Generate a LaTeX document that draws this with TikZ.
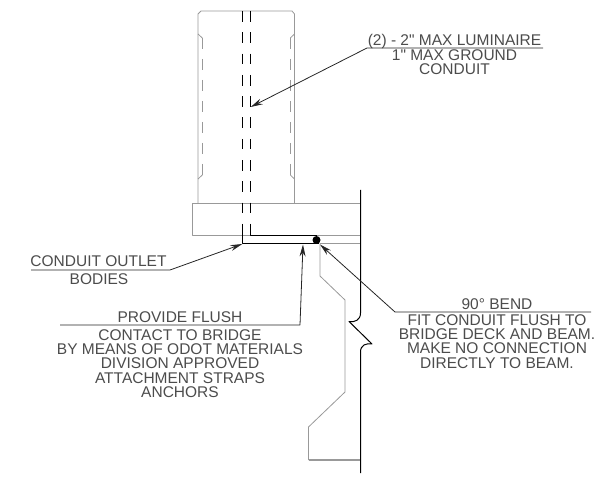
\documentclass[tikz,border=0pt]{standalone}
\usepackage{fontspec}
\newfontfamily\notefont{Liberation Sans}
\usetikzlibrary{arrows.meta}
\tikzset{
  grayline/.style={line width=.8pt,color=black!40},
  beamline/.style={line width=1.pt,color=black},
  leader/.style={line width=.8pt,color=black!85},
  conduit/.style={line width=1.pt,color=black,dash pattern=on 10.7pt off 10.6pt},
  note/.style={anchor=base,align=center,inner sep=0pt,font=\notefont\fontsize{15.5}{14.3}\selectfont,text=black!70},
}
\begin{document}
\begin{tikzpicture}[line cap=butt,line join=round,x=1pt,y=-1pt,>={Stealth[length=12pt,width=6pt]}]
\useasboundingbox (0,0) rectangle (605,486);
% luminaire base
\draw [grayline] (198,203) -- (198,14) -- (201,11) -- (292,11) -- (294.5,14) -- (294.5,203);
\draw [grayline] (198,34) -- (202.3,38);
\draw [grayline] (294.5,34) -- (290.3,38);
\draw [grayline] (198,179) -- (202.3,175);
\draw [grayline] (294.5,179) -- (290.3,175);
\draw [grayline,dash pattern=on 10.7pt off 10.3pt] (202.3,38) -- (202.3,175);
\draw [grayline,dash pattern=on 10.7pt off 10.3pt] (290.3,38) -- (290.3,175);
% bridge deck
\draw [grayline] (360.5,203) -- (192.5,203) -- (192.5,235) -- (360.5,235);
\draw [grayline,line width=1.4pt] (320,243.5) -- (360.5,243.5);
\draw [grayline] (320,243.5) -- (320,276) -- (345,300) -- (345,392) -- (308.5,427) -- (308.5,460);
\draw [grayline,line width=1.2pt] (308.5,460) -- (360.5,460);
% break line
\draw [beamline] (360.5,190) -- (360.5,313) .. controls (360.5,320) and (355,322.5) .. (349,321.5) -- (372,344) .. controls (366,343) and (360.5,345) .. (360.5,352) -- (360.5,473);
% conduits
\draw [conduit] (242.3,11) -- (242.3,224);
\draw [conduit] (250.7,11) -- (250.7,224);
\draw [beamline] (242.3,224) -- (242.3,244) -- (319,244);
\draw [beamline] (250.7,224) -- (250.7,236) -- (317,236);
\node (dot) [circle,fill=black,inner sep=0pt,minimum size=8pt] at (316.5,240) {};
% notes
\node (lumtop) [note] at (454.5,46) {(2) - 2" MAX LUMINAIRE};
\node (lumbody) [note] at (454.5,75) {1" MAX GROUND\\CONDUIT};
\node (outlettop) [note] at (98.5,267) {CONDUIT OUTLET};
\node (outletbody) [note] at (99,285) {BODIES};
\node (flushtop) [note] at (180,323) {PROVIDE FLUSH};
\node (flushbody) [note] at (180,397.3) {CONTACT TO BRIDGE\\BY MEANS OF ODOT MATERIALS\\DIVISION APPROVED\\ATTACHMENT STRAPS\\ANCHORS};
\node (bendtop) [note] at (497,309) {90° BEND};
\node (bendbody) [note] at (497,368) {FIT CONDUIT FLUSH TO\\BRIDGE DECK AND BEAM.\\MAKE NO CONNECTION\\DIRECTLY TO BEAM.};
% leaders
\coordinate (lumend) at (543,48);
\coordinate (lumknee) at (367,48);
\coordinate (lumtip) at (250.7,107);
\coordinate (outletend) at (31,270);
\coordinate (outletknee) at (170,270);
\coordinate (outlettip) at (242.3,244);
\coordinate (flushend) at (60,325);
\coordinate (flushknee) at (300,325);
\coordinate (flushtip) at (303,244.5);
\coordinate (bendend) at (591,312);
\coordinate (bendknee) at (395,312);
\coordinate (bendtip) at (320,244.5);
\draw [leader,->] (lumend) -- (lumknee) -- (lumtip);
\draw [leader,->] (outletend) -- (outletknee) -- (outlettip);
\draw [leader,->] (flushend) -- (flushknee) -- (flushtip);
\draw [leader,->] (bendend) -- (bendknee) -- (bendtip);
\end{tikzpicture}
\end{document}
